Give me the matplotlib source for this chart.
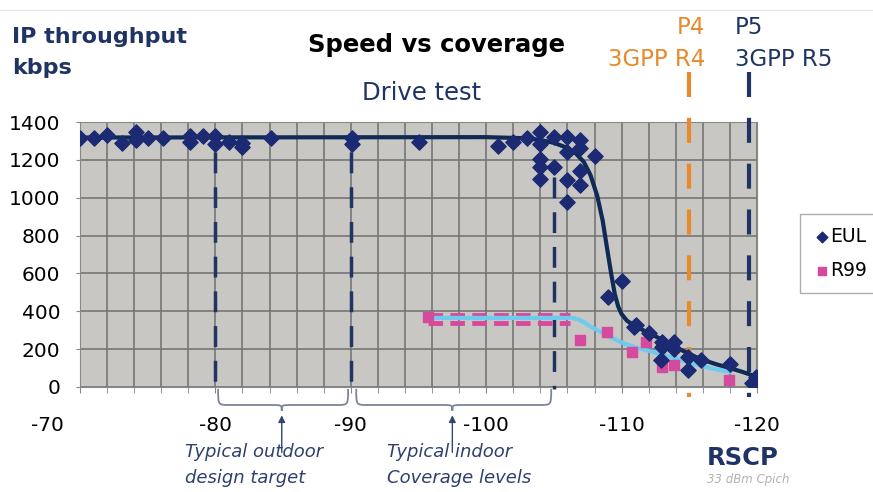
import numpy as np
import matplotlib
matplotlib.use("Agg")
import matplotlib.pyplot as plt
from matplotlib.path import Path
from matplotlib.patches import PathPatch
from matplotlib.lines import Line2D
from matplotlib.transforms import ScaledTranslation

plt.rcParams["axes.unicode_minus"] = False

# EUL drive-test samples (RSCP dBm, kbps)
eul_x = [-70, -71, -72, -73.1, -74.1, -74.1, -75, -76.1, -78.1, -78.1, -79.1, -80, -80, -81, -82, -82,
         -84.1, -90.1, -90.1, -95, -100.9, -102, -103, -104, -104, -104, -104, -104, -105, -105,
         -106, -106, -106, -106, -106.9, -106.9, -106.9, -106.9, -108, -109, -110, -110.9, -111.1,
         -112, -113, -113, -112.9, -113.9, -113.9, -114.9, -114.9, -115.9, -118, -119.9, -119.8, -119.6]
eul_y = [1315, 1315, 1331, 1289, 1347, 1305, 1315, 1315, 1326, 1294, 1326, 1326, 1284, 1294, 1289, 1268,
         1315, 1315, 1284, 1294, 1275, 1294, 1318, 1345, 1283, 1205, 1162, 1100, 1320, 1162,
         1320, 1242, 1094, 977, 1305, 1263, 1140, 1067, 1218, 475, 560, 317, 328,
         285, 240, 211, 143, 240, 200, 90, 158, 143, 120, 53, 26, 20]

# R99 samples
r99_x = [-95.7, -106.9, -108.9, -110.8, -111.8, -113, -113.9, -117.9]
r99_y = [370, 248, 290, 185, 238, 106, 116, 37]
r99_band_x = [-95.7, -106.2]
r99_band_hi = 383
r99_band_lo = 340

# fitted trend curves
eul_fit_x = [-70, -100, -103, -104, -105, -106, -106.6, -107.2, -107.7, -108.2, -108.6, -109, -109.25,
             -109.5, -109.75, -110, -110.4, -111, -112, -112.6, -113.3, -114.1, -115, -115.8, -117, -118, -119, -120]
eul_fit_y = [1318, 1320, 1314, 1305, 1290, 1263, 1235, 1190, 1120, 1010, 880, 700, 590,
             490, 425, 385, 350, 322, 285, 264, 238, 206, 175, 148, 120, 100, 78, 53]
r99_fit_x = [-95.7, -106.3, -106.8, -107.3, -107.8, -108.5, -109.2, -110.1, -111, -112.6, -114, -115.1, -116.5, -118]
r99_fit_y = [365, 365, 358, 338, 315, 290, 262, 232, 210, 180, 150, 127, 100, 79]

x_ticks = [-70, -80, -90, -100, -110, -120]
y_ticks = [0, 200, 400, 600, 800, 1000, 1200, 1400]

navy = "#1f3464"
W, H = 873, 492

fig = plt.figure(figsize=(W / 100, H / 100), dpi=100)
ax = fig.add_axes([80 / W, 1 - 387 / H, 677 / W, 265 / H])
ax.set_facecolor("#c9c7c3")
ax.set_xlim(-70, -120)
ax.set_ylim(0, 1400)
ax.set_xticks(x_ticks)
ax.set_xticks(np.arange(-70, -121, -2), minor=True)
ax.set_yticks(y_ticks)
ax.grid(True, which="both", color="#767676", lw=1.2)
ax.set_axisbelow(True)
for s in ax.spines.values():
    s.set_color("#888888")
ax.tick_params(axis="x", which="both", length=4, color="#888888", labelsize=14.5, pad=17)
ax.tick_params(axis="y", length=3, color="#888888", labelsize=14.5, pad=11)
lab = ax.xaxis.get_majorticklabels()[0]
lab.set_transform(lab.get_transform() + ScaledTranslation(-0.33, 0, fig.dpi_scale_trans))

# reference lines
for xv, top in [(-80, 1240), (-90, 1240), (-105, 1110)]:
    ax.plot([xv, xv], [top, -10], color=navy, lw=2.5, dashes=(6, 4), clip_on=False, zorder=3)
ax.plot([-115, -115], [1664, -55], color="#e8892b", lw=3, dashes=(6, 5), clip_on=False, zorder=3)
ax.plot([-119.4, -119.4], [1664, -55], color=navy, lw=3, dashes=(6, 5), clip_on=False, zorder=3)

# R99
ax.plot(r99_band_x, [r99_band_hi] * 2, color="#d64a9e", lw=3.5, dashes=(3, 1.5), zorder=4)
ax.plot(r99_band_x, [r99_band_lo] * 2, color="#d64a9e", lw=3.5, dashes=(3, 1.5), zorder=4)
ax.plot(r99_fit_x, r99_fit_y, color="#6ecbf0", lw=3, zorder=5)
ax.scatter(r99_x, r99_y, marker="s", s=60, color="#d64a9e", zorder=6, label="R99")

# EUL
ax.plot(eul_fit_x, eul_fit_y, color="#0e2a55", lw=3, zorder=7)
ax.scatter(eul_x, eul_y, marker="D", s=60, color="#1b2a72", zorder=8, label="EUL")

# braces + arrows under the axis
def brace(x0, x1, xc, d=0.8):
    yt, yh, ytip = -10, -95, -125
    verts = [(x0, yt), (x0, yh), (x0, yh), (x0 - d, yh),
             (xc + d, yh), (xc, yh), (xc, yh), (xc, ytip),
             (xc, yh), (xc, yh), (xc - d, yh),
             (x1 + d, yh), (x1, yh), (x1, yh), (x1, yt)]
    codes = [Path.MOVETO, Path.CURVE4, Path.CURVE4, Path.CURVE4,
             Path.LINETO, Path.CURVE4, Path.CURVE4, Path.CURVE4,
             Path.CURVE4, Path.CURVE4, Path.CURVE4,
             Path.LINETO, Path.CURVE4, Path.CURVE4, Path.CURVE4]
    ax.add_patch(PathPatch(Path(verts, codes), fill=False, ec="#7b8698", lw=1.3, clip_on=False))
    ax.annotate("", xy=(xc, -135), xytext=(xc, -360), annotation_clip=False,
                arrowprops=dict(arrowstyle="-|>", color="#33466e", lw=1, mutation_scale=10))

brace(-80.2, -89.8, -84.9)
brace(-90.4, -104.8, -97.5)

# texts
def ftext(x, y, s, **kw):
    fig.text(x / W, 1 - y / H, s, va="center", **kw)

fig.add_artist(Line2D([0, 1], [1 - 10 / H] * 2, color="#e6e6e6", lw=1))
ftext(12, 37, "IP throughput", fontsize=16, fontweight="bold", color=navy)
ftext(12, 68, "kbps", fontsize=16, fontweight="bold", color=navy)
ftext(437, 45, "Speed vs coverage", fontsize=17.5, fontweight="bold", color="black", ha="center")
ftext(362, 93, "Drive test", fontsize=17.5, color=navy)
ftext(705, 27, "P4", fontsize=16.5, color="#e8892b", ha="right")
ftext(705, 60, "3GPP R4", fontsize=16.5, color="#e8892b", ha="right")
ftext(735, 27, "P5", fontsize=16.5, color=navy)
ftext(735, 60, "3GPP R5", fontsize=16.5, color=navy)
ftext(185, 452, "Typical outdoor", fontsize=13, style="italic", color="#2f4070")
ftext(185, 478, "design target", fontsize=13, style="italic", color="#2f4070")
ftext(387, 452, "Typical indoor", fontsize=13, style="italic", color="#2f4070")
ftext(387, 478, "Coverage levels", fontsize=13, style="italic", color="#2f4070")
ftext(707, 458, "RSCP", fontsize=17.5, fontweight="bold", color=navy)
ftext(707, 480, "33 dBm Cpich", fontsize=8.5, style="italic", color="#b3b3b3")

h, l = ax.get_legend_handles_labels()
leg = fig.legend(h[::-1], l[::-1], loc="upper left", bbox_to_anchor=(800 / W, 1 - 214 / H),
                 fontsize=13.5, frameon=True, fancybox=False, edgecolor="#999999",
                 handletextpad=0.0, handlelength=0.9, markerscale=0.7, borderpad=0.7,
                 borderaxespad=0, labelspacing=0.8)

fig.savefig("out.png", dpi=100)
